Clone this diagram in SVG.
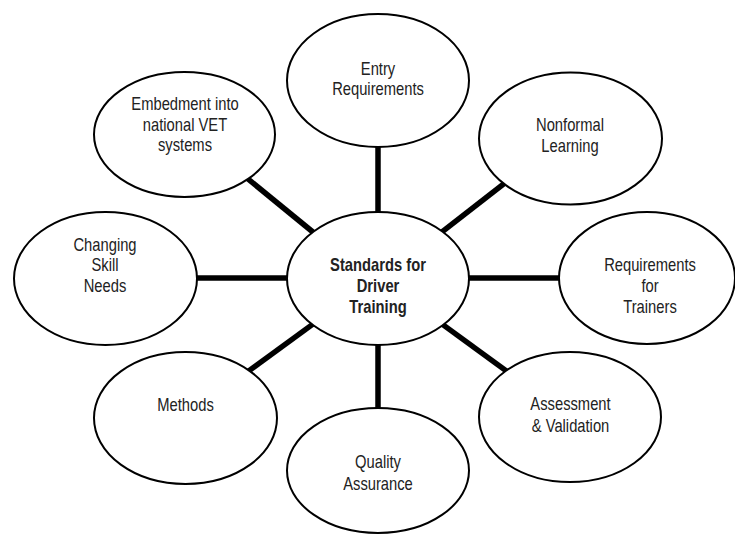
<svg xmlns="http://www.w3.org/2000/svg" width="735" height="536" viewBox="0 0 735 536">
<style>
.bg{fill:#ffffff}
.conn line{stroke:#000;stroke-width:5.5;stroke-linecap:butt}
.node ellipse{fill:#fff;stroke:#000;stroke-width:2}
.node text{font-family:"Liberation Sans Narrow","Arial Narrow","Liberation Sans",sans-serif;font-size:18px;fill:#222;text-anchor:middle}
#center text{font-weight:bold}
</style>
<rect class="bg" x="0" y="0" width="735" height="536"/>
<g id="connectors" class="conn">
<line x1="378" y1="140" x2="378" y2="220"/>
<line x1="378" y1="338" x2="378" y2="415"/>
<line x1="190" y1="278" x2="295" y2="278"/>
<line x1="461" y1="278" x2="566" y2="278"/>
<line x1="240" y1="172.4" x2="330" y2="246"/>
<line x1="425" y1="245.2" x2="520" y2="171.3"/>
<line x1="330" y1="311.6" x2="235" y2="381"/>
<line x1="425" y1="311.6" x2="520" y2="381"/>
</g>
<g id="entry" class="node">
<ellipse cx="378" cy="80.5" rx="91" ry="66.5"/>
<text transform="translate(378 75) scale(0.82 1)">Entry</text>
<text transform="translate(378 95) scale(0.82 1)">Requirements</text>
</g>
<g id="embedment" class="node">
<ellipse cx="184.5" cy="134.5" rx="90.5" ry="62.5"/>
<text transform="translate(185 110) scale(0.82 1)">Embedment into</text>
<text transform="translate(185 131) scale(0.82 1)">national VET</text>
<text transform="translate(185 151) scale(0.82 1)">systems</text>
</g>
<g id="nonformal" class="node">
<ellipse cx="570.5" cy="138.5" rx="91.5" ry="66"/>
<text transform="translate(570 131) scale(0.82 1)">Nonformal</text>
<text transform="translate(570 152) scale(0.82 1)">Learning</text>
</g>
<g id="center" class="node">
<ellipse cx="378" cy="278.5" rx="91" ry="66.5"/>
<text transform="translate(378 271) scale(0.82 1)">Standards for</text>
<text transform="translate(378 292) scale(0.82 1)">Driver</text>
<text transform="translate(378 313) scale(0.82 1)">Training</text>
</g>
<g id="changing" class="node">
<ellipse cx="105.5" cy="278.5" rx="91.5" ry="66.5"/>
<text transform="translate(105 251) scale(0.82 1)">Changing</text>
<text transform="translate(105 271) scale(0.82 1)">Skill</text>
<text transform="translate(105 292) scale(0.82 1)">Needs</text>
</g>
<g id="trainers" class="node">
<ellipse cx="647" cy="278" rx="88" ry="66"/>
<text transform="translate(650 271) scale(0.82 1)">Requirements</text>
<text transform="translate(650 292) scale(0.82 1)">for</text>
<text transform="translate(650 313) scale(0.82 1)">Trainers</text>
</g>
<g id="methods" class="node">
<ellipse cx="185.5" cy="418" rx="91.5" ry="66"/>
<text transform="translate(185.5 411) scale(0.82 1)">Methods</text>
</g>
<g id="assessment" class="node">
<ellipse cx="570" cy="417" rx="91" ry="65"/>
<text transform="translate(570.5 410) scale(0.82 1)">Assessment</text>
<text transform="translate(570.5 432) scale(0.82 1)">&amp; Validation</text>
</g>
<g id="quality" class="node">
<ellipse cx="378" cy="470.5" rx="91" ry="62.5"/>
<text transform="translate(378 468) scale(0.82 1)">Quality</text>
<text transform="translate(378 490) scale(0.82 1)">Assurance</text>
</g>
</svg>
